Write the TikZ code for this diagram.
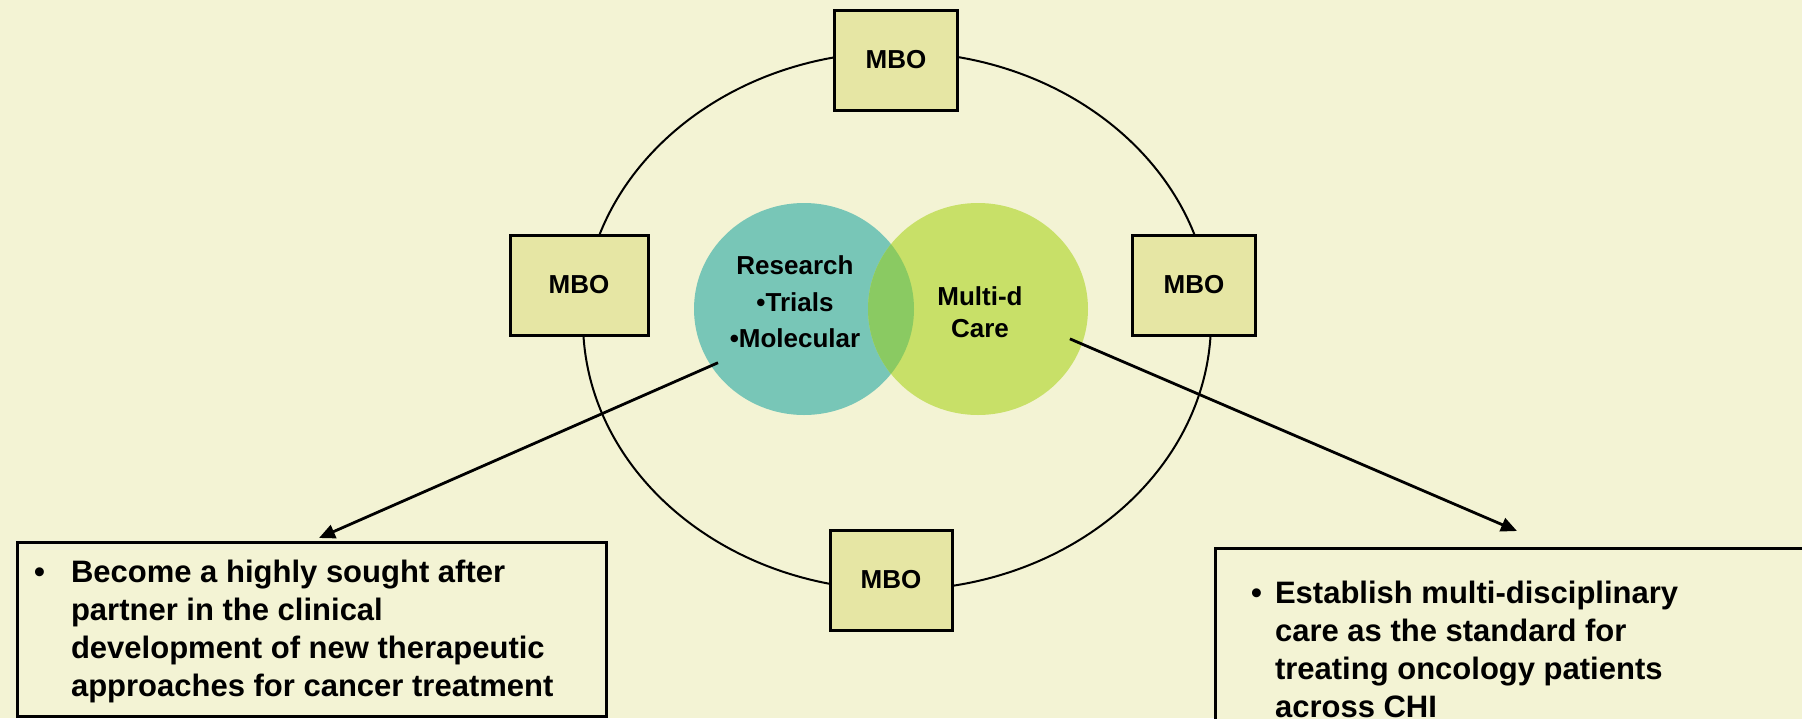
\documentclass[tikz,border=0pt]{standalone}
\usepackage{fontspec}
\setmainfont{Liberation Sans}
\usepackage{xcolor}
\usepackage{tikz}
\usetikzlibrary{shapes.geometric, positioning, calc, arrows.meta}

\definecolor{slidebg}{RGB}{243,243,212}
\definecolor{mbofill}{RGB}{230,230,164}
\definecolor{tealc}{RGB}{120,198,183}
\definecolor{limec}{RGB}{200,224,104}
\definecolor{overlapc}{RGB}{138,202,98}

\begin{document}
\begin{tikzpicture}[x=1pt, y=-1pt,
    mbo_box/.style={rectangle, draw=black, fill=mbofill, line width=3pt, minimum width=123pt, minimum height=100pt, inner sep=0pt, font=\fontsize{26}{31}\selectfont\bfseries},
    venn_circ/.style={ellipse, minimum width=220pt, minimum height=212pt, inner sep=0pt},
    venn_text/.style={align=center, inner sep=0pt, font=\fontsize{26}{36.7}\selectfont\bfseries},
    goal_box/.style={rectangle, draw=black, fill=slidebg, line width=2.5pt, anchor=north west, inner sep=0pt},
    goal_text/.style={anchor=base west, inner sep=0pt, font=\fontsize{31}{38.3}\selectfont\bfseries},
    ring_style/.style={draw=black, line width=2pt},
    arrow_style/.style={draw=black, line width=2.8pt, -{Triangle[length=16pt, width=14pt]}}
]

% Slide background
\useasboundingbox (0,0) rectangle (1802,718);
\clip (0,0) rectangle (1802,718);
\fill[slidebg] (0,0) rectangle (1802,718);

% Outer ring
\draw[ring_style] (897,321) ellipse [x radius=314pt, y radius=269pt];

% MBO boxes on the ring
\node[mbo_box] (mbo_t) at (896,60) {MBO};
\node[mbo_box, minimum width=138pt] (mbo_l) at (579,285) {MBO};
\node[mbo_box] (mbo_r) at (1194,285) {MBO};
\node[mbo_box, minimum width=122pt] (mbo_b) at (891,580) {MBO};

% Venn circles
\node[venn_circ, fill=tealc] (research) at (804,309) {};
\node[venn_circ, fill=limec] (care) at (978,309) {};

% Overlap of the two circles
\begin{scope}
    \clip (research.center) ellipse [x radius=110pt, y radius=106pt];
    \fill[overlapc] (care.center) ellipse [x radius=110pt, y radius=106pt];
\end{scope}

% Circle texts
\node[venn_text] (research_text) at ($(research.center)+(-9,-7)$) {Research\\\textbullet Trials\\\textbullet Molecular};
\node[venn_text, font=\fontsize{26}{32}\selectfont\bfseries] (care_text) at ($(care.center)+(2,3.5)$) {Multi-d\\Care};

% Goal boxes
\node[goal_box, minimum width=589pt, minimum height=174pt] (goal_l) at (16,541) {};
\node[goal_box, minimum width=640pt, minimum height=220pt] (goal_r) at (1214,547) {};

\node[goal_text] (goal_l_text) at ($(goal_l.north west)+(18,41)$) {\begin{tabular}[t]{@{}l@{\hspace{26pt}}l@{}}
\textbullet & Become a highly sought after\\
 & partner in the clinical\\
 & development of new therapeutic\\
 & approaches for cancer treatment
\end{tabular}};
\node[goal_text] (goal_r_text) at ($(goal_r.north west)+(37,56)$) {\begin{tabular}[t]{@{}l@{\hspace{13pt}}l@{}}
\textbullet & Establish multi-disciplinary\\
 & care as the standard for\\
 & treating oncology patients\\
 & across CHI
\end{tabular}};

% Arrows from the circles to the goals
\coordinate (tip_l) at ($(goal_l.north west)+(303,-3)$);
\coordinate (tip_r) at ($(goal_r.north west)+(303,-16)$);
\draw[arrow_style] ($(research.center)!0.93!(research.212)$) -- (tip_l);
\draw[arrow_style] ($(care.center)!0.88!(care.342)$) -- (tip_r);

\end{tikzpicture}
\end{document}
